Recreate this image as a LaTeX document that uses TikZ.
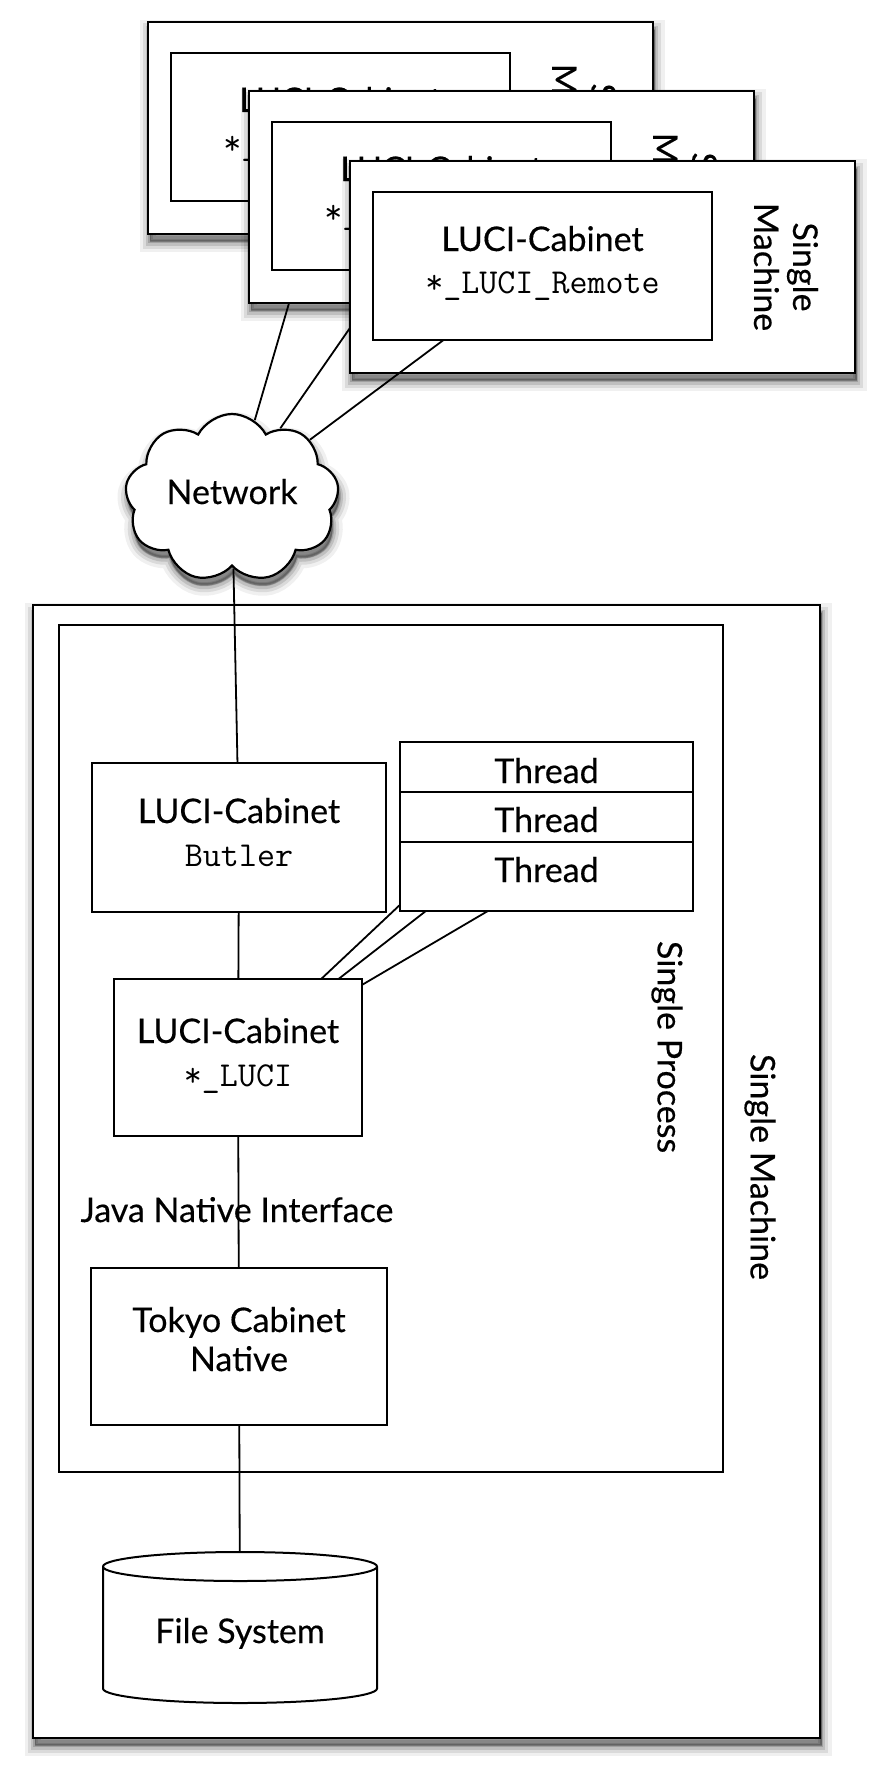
\documentclass[tikz,border=0pt]{standalone}
\usepackage{fontspec}
\setmainfont{Lato}[FakeBold=0.35]
\usetikzlibrary{shapes.symbols}
\pgfdeclarelayer{back}
\pgfdeclarelayer{mid}
\pgfsetlayers{back,mid,main}
\tikzset{
  box/.style={rectangle, draw, line width=2pt, fill=white, inner sep=0pt, outer sep=0pt, anchor=north west},
  shadowpass/.style n args={3}{preaction={draw=black, fill=black, opacity=#1, line width=#2,
      transform canvas={shift={(1.5pt,#3)}}}},
  softshadow/.style={
    shadowpass={0.06}{20pt}{-8pt},
    shadowpass={0.09}{13pt}{-8pt},
    shadowpass={0.12}{7pt}{-8pt},
    shadowpass={0.16}{3pt}{-7pt}},
  mbox/.style={box, line width=2.4pt, softshadow},
  conn/.style={line width=1.8pt},
  lbl/.style={anchor=base, inner sep=0pt, font=\fontsize{34}{39}\selectfont},
  mono/.style={anchor=base, inner sep=0pt, font=\ttfamily\fontsize{35}{40}\selectfont},
  vlbl/.style={rotate=-90, align=center, inner sep=0pt, font=\fontsize{34}{39}\selectfont},
}
\newcommand\machinebox[3]{%
  \begin{scope}[shift={(#1,#2)}]
    \node[mbox, minimum width=505pt, minimum height=212pt] (#3) at (350,161) {};
    \node[box, minimum width=339pt, minimum height=148pt] (#3i) at (373,192) {};
    \node[lbl] (#3t) at (542.5,251) {LUCI-Cabinet};
    \node[mono] (#3m) at (542.5,293) {*\_LUCI\_Remote};
    \node[vlbl] (#3s) at (786,267) {Single\\Machine};
    \draw[conn] (#3i) -- (cloud);
  \end{scope}}
\begin{document}
\begin{tikzpicture}[x=1pt, y=-1pt]
\useasboundingbox (0,0) rectangle (886,1774);
\begin{pgfonlayer}{back}
  \fill[white] (0,0) rectangle (886,1774);
  \node[box, line width=2.4pt, minimum width=787pt, minimum height=1133pt, softshadow] (outer) at (33,605) {};
  \node[box, minimum width=664pt, minimum height=847pt] (proc) at (59,625) {};
\end{pgfonlayer}

% network cloud
\node[cloud, cloud puffs=9, cloud puff arc=125, aspect=1.3, draw, line width=2.2pt, fill=white,
      inner sep=0pt, minimum width=214pt, minimum height=168pt, softshadow] (cloud) at (232,498) {};
\node[lbl] (net) at (232,504) {Network};

% stacked remote machines
\machinebox{-202}{-139}{mA}
\machinebox{-101}{-70}{mB}
\machinebox{0}{0}{mC}

% single process contents
\node[box, minimum width=294pt, minimum height=149pt] (butler) at (92,763) {};
\node[lbl] (bt1) at (239,823) {LUCI-Cabinet};
\node[mono] (bt2) at (239,866) {Butler};

\node[box, minimum width=293pt, minimum height=50pt] (th1) at (400,742) {};
\node[box, minimum width=293pt, minimum height=50pt] (th2) at (400,792) {};
\node[box, minimum width=293pt, minimum height=69pt] (th3) at (400,842) {};
\node[lbl] (tt1) at (546.5,783) {Thread};
\node[lbl] (tt2) at (546.5,832) {Thread};
\node[lbl] (tt3) at (546.5,882) {Thread};

\node[box, minimum width=248pt, minimum height=157pt] (luci) at (114,979) {};
\node[lbl] (lt1) at (238,1043) {LUCI-Cabinet};
\node[mono] (lt2) at (238,1086) {*\_LUCI};

\node[lbl] (jni) at (237,1222) {Java Native Interface};

\node[box, minimum width=296pt, minimum height=157pt] (tokyo) at (91,1268) {};
\node[lbl] (tk1) at (239,1332) {Tokyo Cabinet};
\node[lbl] (tk2) at (239,1371) {Native};

% file system cylinder
\draw[line width=2pt, fill=white] (103,1566.5) -- (103,1688.5)
   arc[start angle=180, end angle=360, x radius=137pt, y radius=14.5pt]
   -- (377,1566.5)
   arc[start angle=0, end angle=180, x radius=137pt, y radius=14.5pt] -- cycle;
\draw[line width=2pt] (103,1566.5) arc[start angle=180, end angle=360, x radius=137pt, y radius=14.5pt];
\node[rectangle, inner sep=0pt, outer sep=0pt, minimum width=274pt, minimum height=151pt] (fs) at (240,1627.5) {};
\node[lbl] (fst) at (240,1643) {File System};

\node[vlbl] (sp) at (667,1047) {Single Process};
\node[vlbl] (sm) at (760,1167) {Single Machine};

\begin{pgfonlayer}{mid}
  \draw[conn] (cloud) -- (butler);
  \draw[conn] (butler) -- (luci);
  \draw[conn] (th1) -- (luci);
  \draw[conn] (th2) -- (luci);
  \draw[conn] (th3) -- (luci);
  \draw[conn] (luci) -- (tokyo);
  \draw[conn] (tokyo) -- (fs);
\end{pgfonlayer}
\end{tikzpicture}
\end{document}
